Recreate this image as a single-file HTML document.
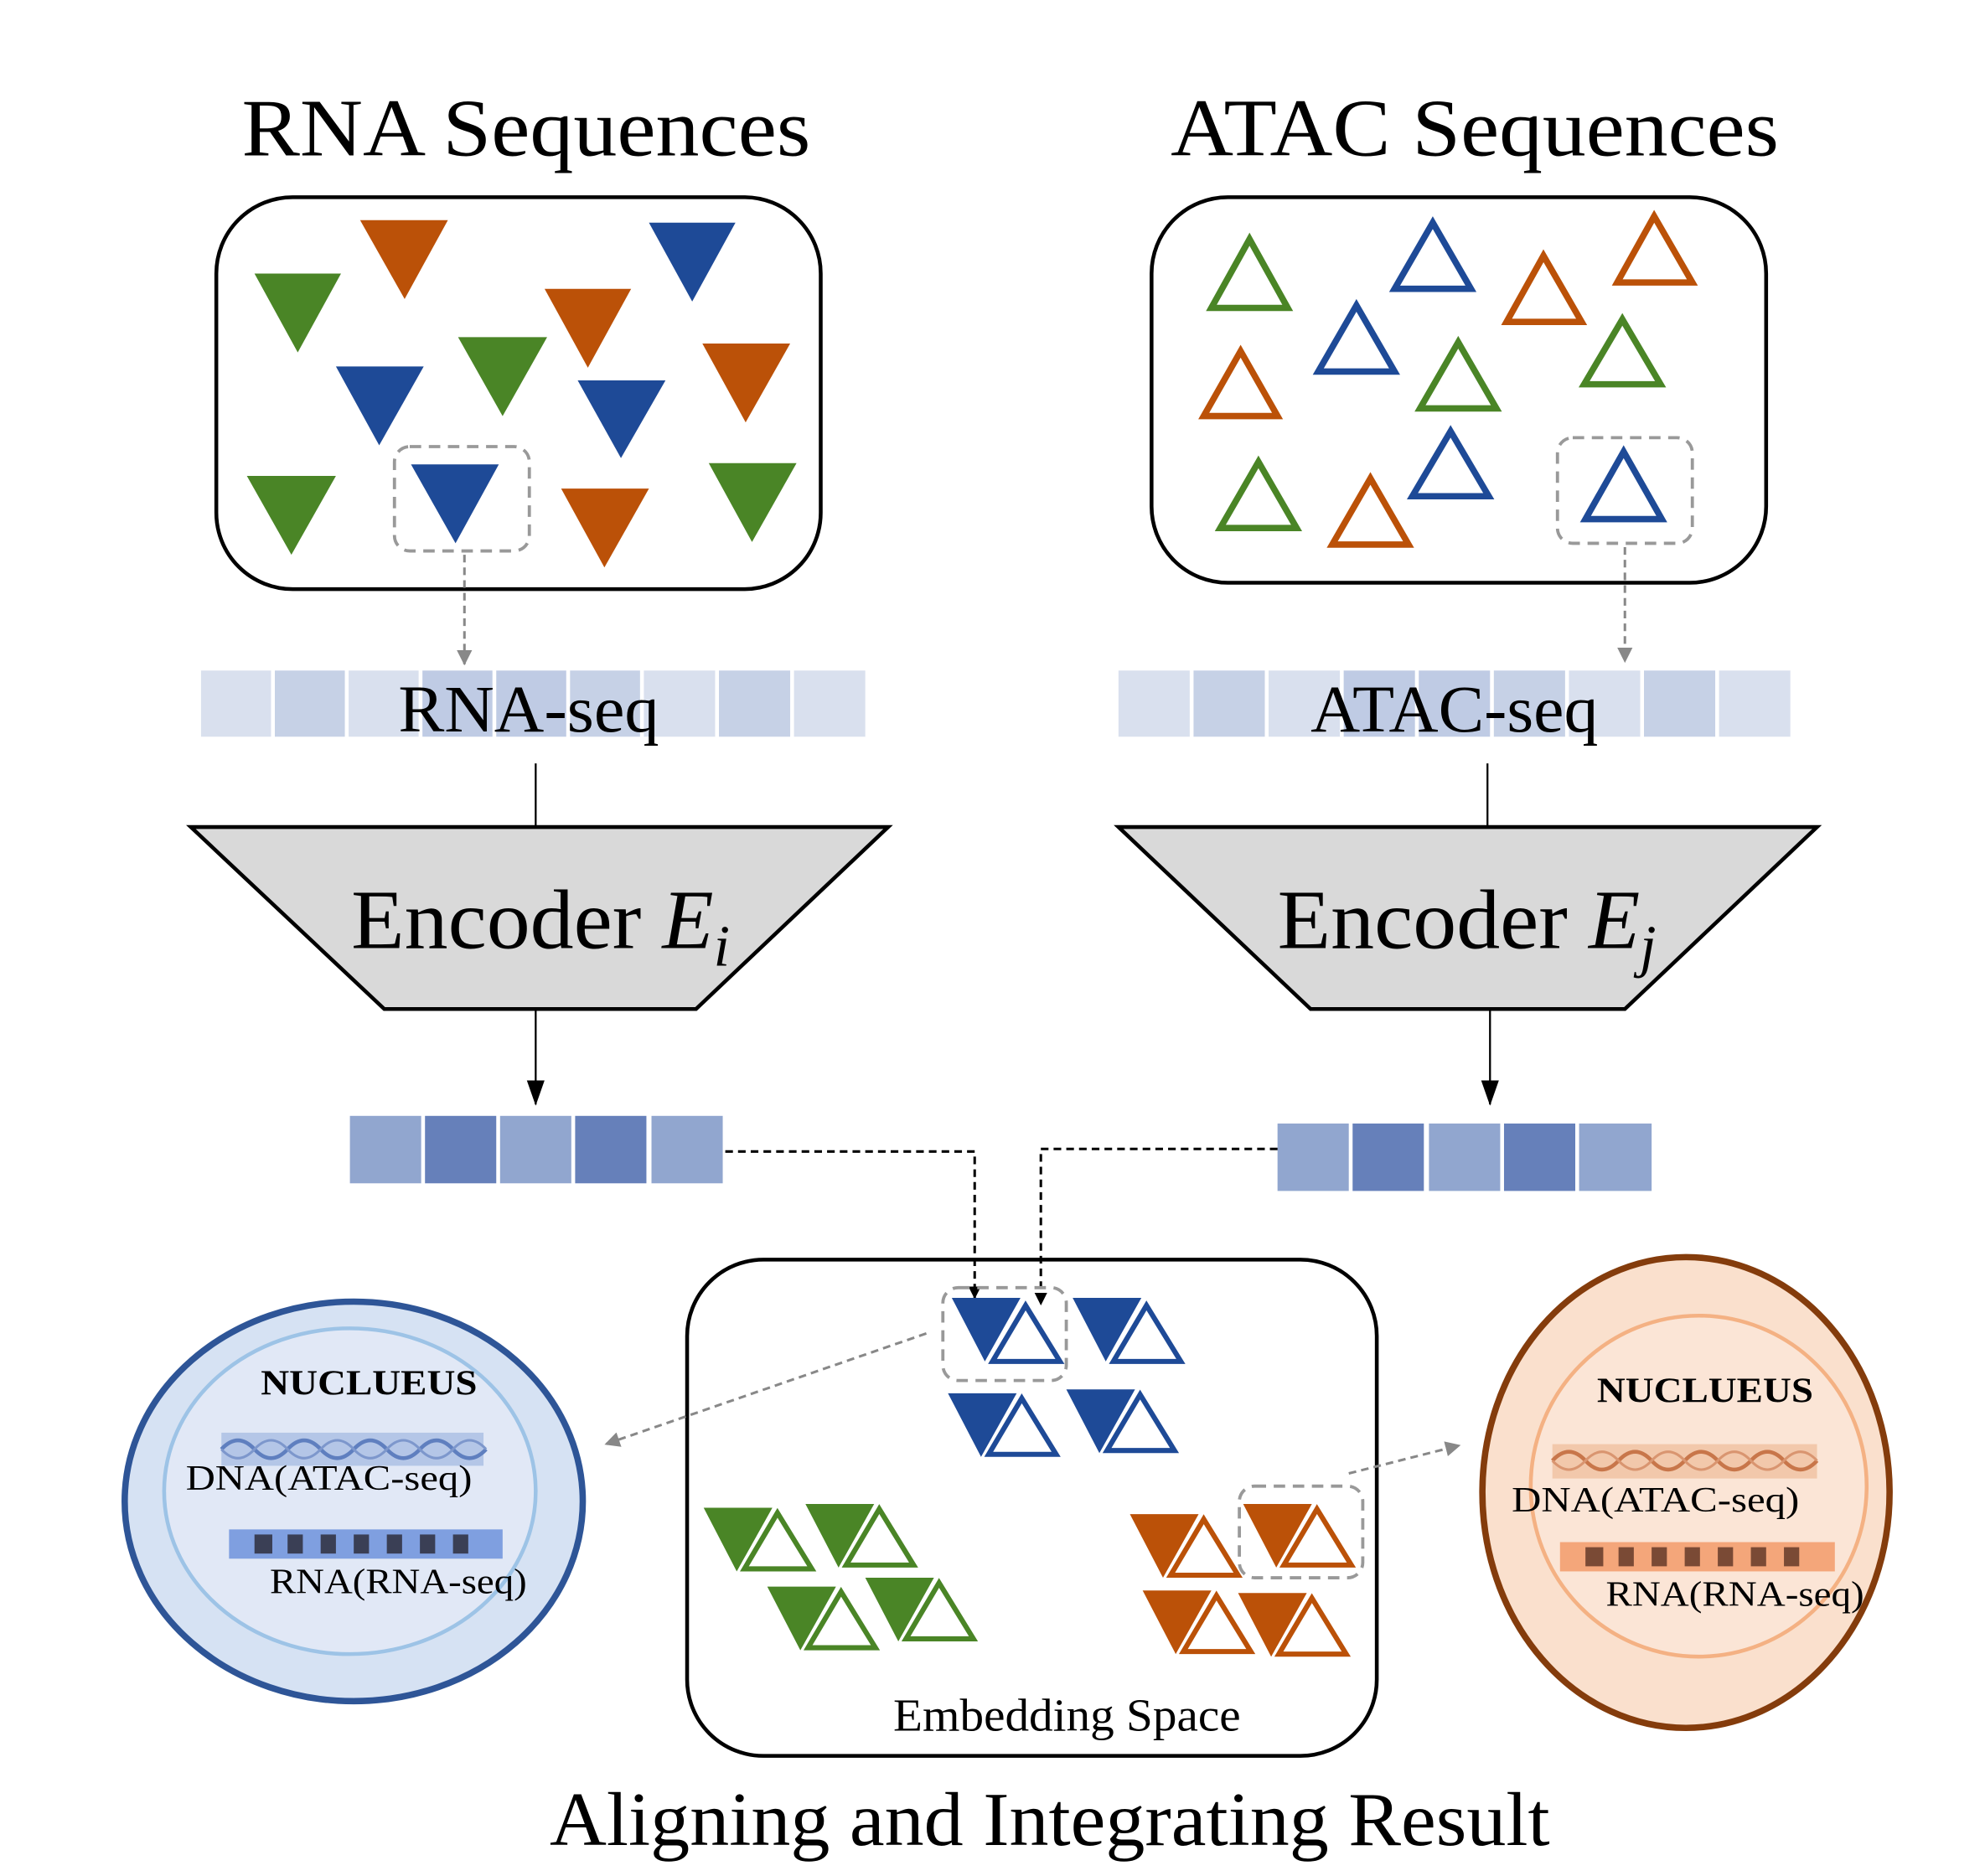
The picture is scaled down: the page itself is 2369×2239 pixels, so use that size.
<!DOCTYPE html>
<html><head><meta charset="utf-8"><style>html,body{margin:0;padding:0;background:#fff}svg{display:block}</style></head>
<body>
<svg width="2369" height="2239" viewBox="0 0 1560 1474.4" preserveAspectRatio="none" xmlns="http://www.w3.org/2000/svg" font-family="'Liberation Serif',serif">
<defs>
<marker id="ab" markerWidth="10" markerHeight="10" refX="9" refY="5" orient="auto" markerUnits="userSpaceOnUse"><path d="M0,0 L10,5 L0,10 Z" fill="#000"/></marker>
<marker id="ag" markerWidth="12" markerHeight="12" refX="11" refY="6" orient="auto" markerUnits="userSpaceOnUse"><path d="M0,0 L12,6 L0,12 Z" fill="#888"/></marker>
<marker id="abig" markerWidth="20" markerHeight="20" refX="19" refY="10" orient="auto" markerUnits="userSpaceOnUse"><path d="M0,3 L20,10 L0,17 Z" fill="#000"/></marker>
</defs>
<text x="190" y="122" font-size="64" textLength="447" lengthAdjust="spacingAndGlyphs">RNA Sequences</text>
<text x="920" y="122" font-size="64" textLength="478" lengthAdjust="spacingAndGlyphs">ATAC Sequences</text>
<rect x="170" y="155" width="475" height="308" rx="60" fill="none" stroke="#000" stroke-width="3"/>
<rect x="905" y="155" width="483" height="303" rx="60" fill="none" stroke="#000" stroke-width="3"/>
<g>
<polygon points="200,215 268,215 234,277" fill="#4a8526"/>
<polygon points="283,173 352,173 318,235" fill="#bb5108"/>
<polygon points="510,175 578,175 544,237" fill="#1e4a97"/>
<polygon points="428,227 496,227 462,289" fill="#bb5108"/>
<polygon points="360,265 430,265 395,327" fill="#4a8526"/>
<polygon points="264,288 333,288 298,350" fill="#1e4a97"/>
<polygon points="552,270 621,270 586,332" fill="#bb5108"/>
<polygon points="454,299 523,299 488,360" fill="#1e4a97"/>
<polygon points="194,374 264,374 229,436" fill="#4a8526"/>
<polygon points="323,365 392,365 358,427" fill="#1e4a97"/>
<polygon points="441,384 510,384 475,446" fill="#bb5108"/>
<polygon points="557,364 626,364 591,426" fill="#4a8526"/>
</g>
<rect x="310" y="351" width="106" height="82" rx="12" fill="none" stroke="#999" stroke-width="2.5" stroke-dasharray="9,6"/>
<g fill="none" stroke-width="5">
<polygon points="982,188 952,242 1012,242" stroke="#4a8526"/>
<polygon points="1126,175 1096,227 1156,227" stroke="#1e4a97"/>
<polygon points="1213,201 1184,253 1243,253" stroke="#bb5108"/>
<polygon points="1300,170 1271,222 1330,222" stroke="#bb5108"/>
<polygon points="1066,240 1036,292 1096,292" stroke="#1e4a97"/>
<polygon points="1146,269 1116,321 1176,321" stroke="#4a8526"/>
<polygon points="1275,251 1245,302 1305,302" stroke="#4a8526"/>
<polygon points="975,276 946,327 1004,327" stroke="#bb5108"/>
<polygon points="1140,339 1110,390 1170,390" stroke="#1e4a97"/>
<polygon points="989,363 959,415 1019,415" stroke="#4a8526"/>
<polygon points="1077,376 1047,428 1107,428" stroke="#bb5108"/>
<polygon points="1276,355 1246,408 1306,408" stroke="#1e4a97"/>
</g>
<rect x="1224" y="344" width="106" height="83" rx="12" fill="none" stroke="#999" stroke-width="2.5" stroke-dasharray="9,6"/>
<line x1="365" y1="436" x2="365" y2="522" stroke="#888" stroke-width="2" stroke-dasharray="6,4" marker-end="url(#ag)"/>
<line x1="1277" y1="430" x2="1277" y2="520" stroke="#888" stroke-width="2" stroke-dasharray="6,4" marker-end="url(#ag)"/>
<g>
<rect x="158" y="527" width="55" height="52" fill="#d9e0ee"/>
<rect x="216" y="527" width="55" height="52" fill="#c6d1e6"/>
<rect x="274" y="527" width="55" height="52" fill="#d9e0ee"/>
<rect x="332" y="527" width="55" height="52" fill="#bfcbe4"/>
<rect x="390" y="527" width="55" height="52" fill="#bfcbe4"/>
<rect x="448" y="527" width="55" height="52" fill="#c6d1e6"/>
<rect x="506" y="527" width="56" height="52" fill="#d9e0ee"/>
<rect x="565" y="527" width="56" height="52" fill="#c6d1e6"/>
<rect x="624" y="527" width="56" height="52" fill="#d9e0ee"/>
</g>
<g>
<rect x="879" y="527" width="56" height="52" fill="#d9e0ee"/>
<rect x="938" y="527" width="56" height="52" fill="#c6d1e6"/>
<rect x="997" y="527" width="56" height="52" fill="#d9e0ee"/>
<rect x="1056" y="527" width="56" height="52" fill="#bfcbe4"/>
<rect x="1115" y="527" width="56" height="52" fill="#bfcbe4"/>
<rect x="1174" y="527" width="56" height="52" fill="#c6d1e6"/>
<rect x="1233" y="527" width="56" height="52" fill="#d9e0ee"/>
<rect x="1292" y="527" width="56" height="52" fill="#c6d1e6"/>
<rect x="1351" y="527" width="56" height="52" fill="#d9e0ee"/>
</g>
<text x="313" y="575" font-size="52" textLength="205" lengthAdjust="spacingAndGlyphs">RNA-seq</text>
<text x="1030" y="575" font-size="52" textLength="226" lengthAdjust="spacingAndGlyphs">ATAC-seq</text>
<line x1="421" y1="600" x2="421" y2="650" stroke="#000" stroke-width="1.5"/>
<line x1="1169" y1="600" x2="1169" y2="650" stroke="#000" stroke-width="1.5"/>
<polygon points="150,650 698,650 547,793 302,793" fill="#d9d9d9" stroke="#000" stroke-width="3"/>
<polygon points="879,650 1428,650 1277,793 1030,793" fill="#d9d9d9" stroke="#000" stroke-width="3"/>
<text x="276" y="745" font-size="66"><tspan textLength="228" lengthAdjust="spacingAndGlyphs">Encoder</tspan> <tspan font-style="italic">E</tspan><tspan font-style="italic" font-size="46" dy="14">i</tspan></text>
<text x="1004" y="745" font-size="66"><tspan textLength="228" lengthAdjust="spacingAndGlyphs">Encoder</tspan> <tspan font-style="italic">E</tspan><tspan font-style="italic" font-size="46" dy="14">j</tspan></text>
<line x1="421" y1="793" x2="421" y2="868" stroke="#000" stroke-width="1.5" marker-end="url(#abig)"/>
<line x1="1171" y1="793" x2="1171" y2="868" stroke="#000" stroke-width="1.5" marker-end="url(#abig)"/>
<g>
<rect x="275" y="877" width="56" height="53" fill="#91a6cf"/>
<rect x="334" y="877" width="56" height="53" fill="#6680ba"/>
<rect x="393" y="877" width="56" height="53" fill="#91a6cf"/>
<rect x="452" y="877" width="56" height="53" fill="#6680ba"/>
<rect x="512" y="877" width="56" height="53" fill="#91a6cf"/>
<rect x="1004" y="883" width="56" height="53" fill="#91a6cf"/>
<rect x="1063" y="883" width="56" height="53" fill="#6680ba"/>
<rect x="1123" y="883" width="56" height="53" fill="#91a6cf"/>
<rect x="1182" y="883" width="56" height="53" fill="#6680ba"/>
<rect x="1241" y="883" width="57" height="53" fill="#91a6cf"/>
</g>
<polyline points="570,905 766,905 766,1020" fill="none" stroke="#000" stroke-width="2" stroke-dasharray="6,4" marker-end="url(#ab)"/>
<polyline points="1004,903 818,903 818,1025" fill="none" stroke="#000" stroke-width="2" stroke-dasharray="6,4" marker-end="url(#ab)"/>
<rect x="540" y="990" width="542" height="390" rx="60" fill="none" stroke="#000" stroke-width="3"/>
<g>
<polygon points="748,1020 802,1020 774,1070" fill="#1e4a97"/><polygon points="806,1026 780,1070 833,1070" fill="none" stroke="#1e4a97" stroke-width="4"/>
<polygon points="843,1020 897,1020 869,1070" fill="#1e4a97"/><polygon points="901,1026 875,1070 928,1070" fill="none" stroke="#1e4a97" stroke-width="4"/>
<polygon points="745,1095 799,1095 771,1145" fill="#1e4a97"/><polygon points="803,1099 777,1143 830,1143" fill="none" stroke="#1e4a97" stroke-width="4"/>
<polygon points="838,1092 892,1092 864,1142" fill="#1e4a97"/><polygon points="896,1096 870,1140 923,1140" fill="none" stroke="#1e4a97" stroke-width="4"/>
<polygon points="553,1185 607,1185 579,1235" fill="#4a8526"/><polygon points="611,1189 585,1233 638,1233" fill="none" stroke="#4a8526" stroke-width="4"/>
<polygon points="633,1182 687,1182 659,1232" fill="#4a8526"/><polygon points="691,1186 665,1230 718,1230" fill="none" stroke="#4a8526" stroke-width="4"/>
<polygon points="603,1247 657,1247 629,1297" fill="#4a8526"/><polygon points="661,1251 635,1295 688,1295" fill="none" stroke="#4a8526" stroke-width="4"/>
<polygon points="680,1240 734,1240 706,1290" fill="#4a8526"/><polygon points="738,1244 712,1288 765,1288" fill="none" stroke="#4a8526" stroke-width="4"/>
<polygon points="888,1190 942,1190 914,1240" fill="#bb5108"/><polygon points="946,1194 920,1238 973,1238" fill="none" stroke="#bb5108" stroke-width="4"/>
<polygon points="977,1182 1031,1182 1003,1232" fill="#bb5108"/><polygon points="1035,1186 1009,1230 1062,1230" fill="none" stroke="#bb5108" stroke-width="4"/>
<polygon points="898,1250 952,1250 924,1300" fill="#bb5108"/><polygon points="956,1254 930,1298 983,1298" fill="none" stroke="#bb5108" stroke-width="4"/>
<polygon points="973,1252 1027,1252 999,1302" fill="#bb5108"/><polygon points="1031,1256 1005,1300 1058,1300" fill="none" stroke="#bb5108" stroke-width="4"/>
</g>
<rect x="741" y="1012" width="97" height="73" rx="12" fill="none" stroke="#999" stroke-width="2.5" stroke-dasharray="9,6"/>
<rect x="974" y="1168" width="97" height="72" rx="12" fill="none" stroke="#999" stroke-width="2.5" stroke-dasharray="9,6"/>
<line x1="728" y1="1048" x2="476" y2="1135" stroke="#888" stroke-width="2" stroke-dasharray="6,4" marker-end="url(#ag)"/>
<line x1="1060" y1="1158" x2="1147" y2="1136" stroke="#888" stroke-width="2" stroke-dasharray="6,4" marker-end="url(#ag)"/>
<text x="702" y="1360" font-size="36" textLength="273" lengthAdjust="spacingAndGlyphs">Embedding Space</text>
<text x="432" y="1450" font-size="60" textLength="786" lengthAdjust="spacingAndGlyphs">Aligning and Integrating Result</text>
<!-- left cell -->
<ellipse cx="278" cy="1180" rx="180" ry="157" fill="#d6e2f3" stroke="#2e5597" stroke-width="5"/>
<ellipse cx="275" cy="1172" rx="146" ry="128" fill="#e1e8f6" stroke="#9dc3e6" stroke-width="3"/>
<text x="205" y="1096" font-size="28" font-weight="bold" textLength="170" lengthAdjust="spacingAndGlyphs">NUCLUEUS</text>
<rect x="174" y="1126" width="206" height="26" fill="#a9bde3" opacity="0.8"/>
<path d="M174,1139 q13,-14 26,0 t26,0 t26,0 t26,0 t26,0 t26,0 t26,0 t26,0" fill="none" stroke="#5f7fbf" stroke-width="3"/>
<path d="M174,1139 q13,14 26,0 t26,0 t26,0 t26,0 t26,0 t26,0 t26,0 t26,0" fill="none" stroke="#7d97cc" stroke-width="2"/>
<text x="146" y="1171" font-size="28" textLength="225" lengthAdjust="spacingAndGlyphs">DNA(ATAC-seq)</text>
<rect x="180" y="1202" width="215" height="23" fill="#7f9fe0"/>
<g fill="#3a3f55"><rect x="200" y="1206" width="14" height="15"/><rect x="226" y="1206" width="12" height="15"/><rect x="252" y="1206" width="12" height="15"/><rect x="278" y="1206" width="12" height="15"/><rect x="304" y="1206" width="12" height="15"/><rect x="330" y="1206" width="12" height="15"/><rect x="356" y="1206" width="12" height="15"/></g>
<text x="212" y="1252" font-size="28" textLength="202" lengthAdjust="spacingAndGlyphs">RNA(RNA-seq)</text>
<!-- right cell -->
<ellipse cx="1325" cy="1173" rx="160" ry="185" fill="#fae0cd" stroke="#843c0c" stroke-width="5"/>
<ellipse cx="1335" cy="1168" rx="132" ry="134" fill="#fbe5d6" stroke="#f4b183" stroke-width="3"/>
<text x="1255" y="1102" font-size="28" font-weight="bold" textLength="170" lengthAdjust="spacingAndGlyphs">NUCLUEUS</text>
<rect x="1220" y="1135" width="208" height="27" fill="#f0c0a0" opacity="0.8"/>
<path d="M1220,1148 q13,-14 26,0 t26,0 t26,0 t26,0 t26,0 t26,0 t26,0 t26,0" fill="none" stroke="#c8764a" stroke-width="3"/>
<path d="M1220,1148 q13,14 26,0 t26,0 t26,0 t26,0 t26,0 t26,0 t26,0 t26,0" fill="none" stroke="#d99570" stroke-width="2"/>
<text x="1188" y="1188" font-size="28" textLength="226" lengthAdjust="spacingAndGlyphs">DNA(ATAC-seq)</text>
<rect x="1226" y="1212" width="216" height="23" fill="#f4a67a"/>
<g fill="#7a4a35"><rect x="1246" y="1216" width="14" height="15"/><rect x="1272" y="1216" width="12" height="15"/><rect x="1298" y="1216" width="12" height="15"/><rect x="1324" y="1216" width="12" height="15"/><rect x="1350" y="1216" width="12" height="15"/><rect x="1376" y="1216" width="12" height="15"/><rect x="1402" y="1216" width="12" height="15"/></g>
<text x="1262" y="1262" font-size="28" textLength="203" lengthAdjust="spacingAndGlyphs">RNA(RNA-seq)</text>
</svg>
</body></html>
